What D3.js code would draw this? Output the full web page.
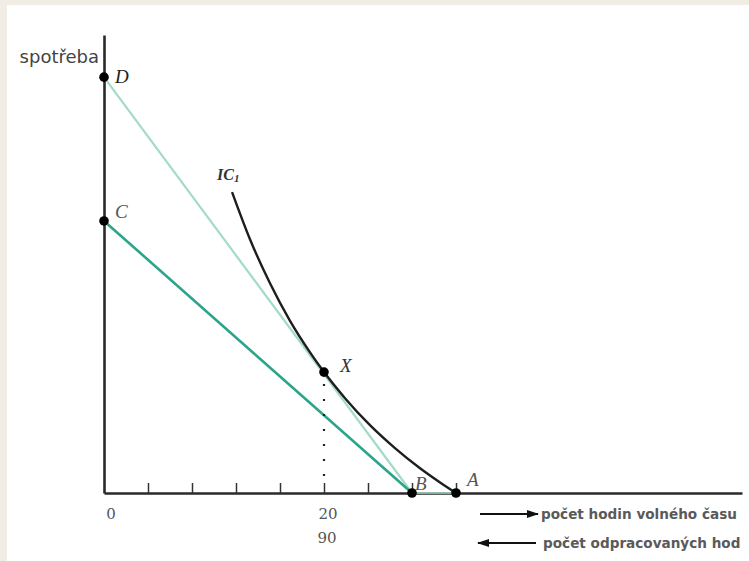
<!DOCTYPE html>
<html>
<head>
<meta charset="utf-8">
<script src="https://cdn.jsdelivr.net/npm/d3@7"></script>
<style>
  html, body { margin: 0; padding: 0; background: #ffffff; }
  svg { display: block; }
</style>
</head>
<body>
<svg id="chart" width="749" height="561"></svg>
<script>
// ---- data ----
const xTicks = [4, 8, 12, 16, 20, 24, 28, 32];
const xTickLabels = [{ v: 0, t: "0" }, { v: 20, t: "20" }];
const workLabels = [{ v: 20, t: "90" }];
const pointNames = ["D", "C", "X", "B", "A"];
const pointX = [0, 0, 20, 28, 32];
const pointY = [90.8, 59.4, 26.4, 0, 0];
const icX = [11.64, 13.27, 15.09, 16.91, 18.73, 20.0, 21.91, 24.18, 26.45, 28.73, 30.55, 32.0];
const icY = [65.7, 55.4, 45.8, 37.6, 30.7, 26.4, 20.7, 14.8, 9.8, 5.4, 2.3, 0];
const legendTexts = ["počet hodin volného času", "počet odpracovaných hod"];
const yAxisTitle = "spotřeba";

const pts = {};
pointNames.forEach((n, i) => pts[n] = { x: pointX[i], y: pointY[i] });

// ---- setup ----
const W = 749, H = 561;
const svg = d3.select("#chart");
svg.append("rect").attr("width", W).attr("height", H).attr("fill", "#f1ede4");
svg.append("rect").attr("x", 7).attr("y", 5).attr("width", W - 7).attr("height", H - 5).attr("fill", "#ffffff");

const x = d3.scaleLinear().domain([0, 58]).range([104, 742]);
const y = d3.scaleLinear().domain([0, 100]).range([493, 35]);

const light = "#a4dbc8", dark = "#2aa589";

// budget lines
const line = d3.line().x(d => x(d.x)).y(d => y(d.y));
svg.append("path").datum([pts.D, pts.B]).attr("d", line)
  .attr("fill", "none").attr("stroke", light).attr("stroke-width", 2.2);
svg.append("path").datum([pts.C, pts.B]).attr("d", line)
  .attr("fill", "none").attr("stroke", dark).attr("stroke-width", 2.6);

// axes
const xAxis = d3.axisBottom(x).tickValues(xTicks).tickSize(-10).tickSizeOuter(0).tickFormat("");
const gx = svg.append("g").attr("transform", `translate(0,${y(0)})`).call(xAxis);
gx.select(".domain").attr("stroke", "#2a2a2a").attr("stroke-width", 2.6);
gx.selectAll(".tick line").attr("stroke", "#333").attr("stroke-width", 1.5);

const yAxis = d3.axisLeft(y).tickValues([]).tickSizeOuter(0);
const gy = svg.append("g").attr("transform", `translate(${x(0)},0)`).call(yAxis);
gy.select(".domain").attr("stroke", "#2a2a2a").attr("stroke-width", 2.6);

// B-A segment on axis
svg.append("path").datum([pts.B, pts.A]).attr("d", line)
  .attr("fill", "none").attr("stroke", light).attr("stroke-width", 1.6);

// indifference curve
const icData = icX.map((v, i) => ({ x: v, y: icY[i] }));
svg.append("path").datum(icData)
  .attr("d", d3.line().x(d => x(d.x)).y(d => y(d.y)).curve(d3.curveMonotoneX))
  .attr("fill", "none").attr("stroke", "#1e1e1e").attr("stroke-width", 2.4);

// dotted drop line from X
svg.append("line")
  .attr("x1", x(pts.X.x)).attr("x2", x(pts.X.x))
  .attr("y1", y(pts.X.y) + 12).attr("y2", y(0) - 4)
  .attr("stroke", "#222").attr("stroke-width", 2.2)
  .attr("stroke-dasharray", "2 13").attr("stroke-linecap", "butt");

// points
svg.selectAll("circle.pt").data(pointNames).enter().append("circle")
  .attr("class", "pt")
  .attr("cx", n => x(pts[n].x)).attr("cy", n => y(pts[n].y)).attr("r", 4.8)
  .attr("fill", "#000");

// point labels
const labelStyle = [
  { n: "D", dx: 11, dy: 6, c: "#222" },
  { n: "C", dx: 11, dy: -3, c: "#555" },
  { n: "X", dx: 16, dy: 0, c: "#333" },
  { n: "B", dx: 3, dy: -3, c: "#555" },
  { n: "A", dx: 11, dy: -7, c: "#555" }
];
labelStyle.forEach(s => {
  svg.append("text")
    .attr("x", x(pts[s.n].x) + s.dx).attr("y", y(pts[s.n].y) + s.dy)
    .attr("font-family", "'Liberation Serif', 'DejaVu Serif', serif")
    .attr("font-style", "italic").attr("font-size", 19).attr("fill", s.c)
    .text(s.n);
});

// IC label
const ict = svg.append("text")
  .attr("x", 217).attr("y", 180)
  .attr("font-family", "'Liberation Serif', serif")
  .attr("font-style", "italic").attr("font-weight", "bold").attr("font-size", 16).attr("fill", "#333");
ict.append("tspan").text("IC");
ict.append("tspan").attr("font-size", 11).attr("dy", 2).text("1");

// tick labels
xTickLabels.forEach(d => {
  svg.append("text").attr("x", x(d.v) + (d.v === 0 ? 7 : 4)).attr("y", 519)
    .attr("text-anchor", "middle")
    .attr("font-family", "'DejaVu Serif', serif").attr("font-size", 15).attr("fill", "#555")
    .text(d.t);
});
workLabels.forEach(d => {
  svg.append("text").attr("x", x(d.v) + 3).attr("y", 543)
    .attr("text-anchor", "middle")
    .attr("font-family", "'DejaVu Serif', serif").attr("font-size", 15).attr("fill", "#555")
    .text(d.t);
});

// y-axis title
svg.append("text").attr("x", 99).attr("y", 63).attr("text-anchor", "end")
  .attr("font-family", "'DejaVu Sans', sans-serif").attr("font-size", 18).attr("fill", "#444")
  .text(yAxisTitle);

// legend arrows
const defs = svg.append("defs");
defs.append("marker").attr("id", "arrowhead").attr("viewBox", "0 0 12 10")
  .attr("refX", 11).attr("refY", 5).attr("markerWidth", 12).attr("markerHeight", 10)
  .attr("orient", "auto-start-reverse").attr("markerUnits", "userSpaceOnUse")
  .append("path").attr("d", "M0,1 L12,5 L0,9 Z").attr("fill", "#111");

const legendY = [514, 543];
svg.append("line").attr("x1", 480).attr("x2", 538).attr("y1", legendY[0]).attr("y2", legendY[0])
  .attr("stroke", "#111").attr("stroke-width", 2).attr("marker-end", "url(#arrowhead)");
svg.append("line").attr("x1", 478).attr("x2", 536).attr("y1", legendY[1]).attr("y2", legendY[1])
  .attr("stroke", "#111").attr("stroke-width", 2).attr("marker-start", "url(#arrowhead)");

legendTexts.forEach((t, i) => {
  svg.append("text").attr("x", i === 0 ? 541 : 543).attr("y", legendY[i] + 4.5)
    .attr("font-family", "'DejaVu Sans', sans-serif").attr("font-size", 13.6)
    .attr("font-weight", "bold").attr("fill", "#5a5a5a")
    .text(t);
});
</script>
</body>
</html>
